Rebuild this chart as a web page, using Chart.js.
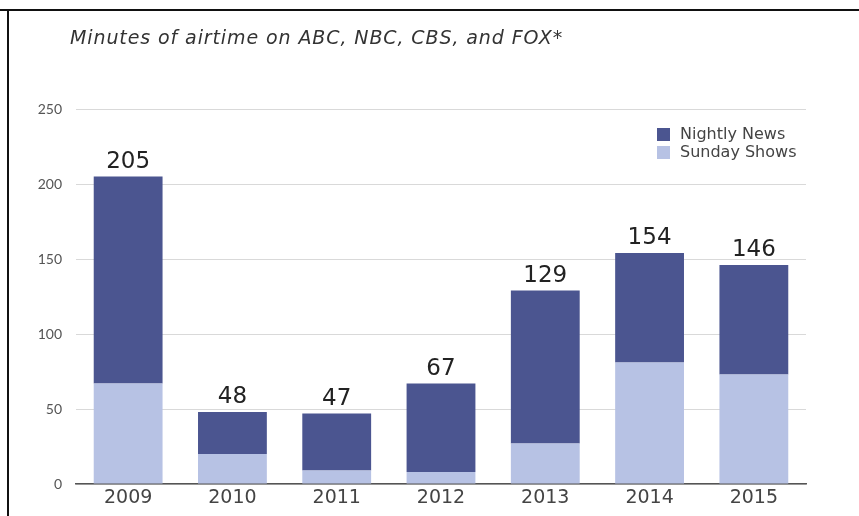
<!DOCTYPE html>
<html>
<head>
<meta charset="utf-8">
<script src="https://cdn.jsdelivr.net/npm/chart.js@4.4.1/dist/chart.umd.min.js"></script>
<style>
  html, body { margin: 0; padding: 0; background: #fff; }
  #wrap { position: relative; width: 859px; height: 516px; overflow: hidden; background: #fff; }
  #frameTop { position: absolute; left: 0; top: 9px; width: 859px; height: 2px; background: #111; }
  #frameLeft { position: absolute; left: 7px; top: 9px; width: 2px; height: 507px; background: #111; }
  #title { position: absolute; left: 70px; top: 26px; font-family: "DejaVu Sans", sans-serif; font-style: italic;
           font-size: 19px; letter-spacing: 0.9px; color: #333; white-space: nowrap; }
  canvas { position: absolute; left: 0; top: 0; }
</style>
</head>
<body>
<div id="wrap">
  <canvas id="c" width="859" height="516"></canvas>
  <div id="frameTop"></div>
  <div id="frameLeft"></div>
  <div id="title">Minutes of airtime on ABC, NBC, CBS, and FOX*</div>
</div>
<script>
const years = ["2009", "2010", "2011", "2012", "2013", "2014", "2015"];
const sundayShows = [67, 20, 9, 8, 27, 81, 73];
const nightlyNews = [138, 28, 38, 59, 102, 73, 73];
const totals = [205, 48, 47, 67, 129, 154, 146];
const yTicks = [0, 50, 100, 150, 200, 250];

const DARK = "#4b5590";
const LIGHT = "#b7c2e4";
const WIDE_FONT = "'DejaVu Sans', sans-serif";
const TICK_FONT = "Lato, sans-serif";

const totalsPlugin = {
  id: "totals",
  afterDatasetsDraw(chart) {
    const ctx = chart.ctx;
    const meta = chart.getDatasetMeta(1);
    ctx.save();
    ctx.font = "23px " + WIDE_FONT;
    ctx.fillStyle = "#222";
    ctx.textAlign = "center";
    ctx.textBaseline = "alphabetic";
    meta.data.forEach((bar, i) => {
      ctx.fillText(String(totals[i]), bar.x, bar.y - 9);
    });
    ctx.restore();
  }
};

const legendPlugin = {
  id: "boxLegend",
  afterDraw(chart) {
    const ctx = chart.ctx;
    const items = [chart.data.datasets[1], chart.data.datasets[0]];
    ctx.save();
    ctx.font = "16px " + WIDE_FONT;
    ctx.textBaseline = "middle";
    ctx.textAlign = "left";
    items.forEach((ds, i) => {
      const y = 128 + i * 18;
      ctx.fillStyle = ds.backgroundColor;
      ctx.fillRect(657, y, 13, 13);
      ctx.fillStyle = "#444";
      ctx.fillText(ds.label, 680, y + 7);
    });
    ctx.restore();
  }
};

new Chart(document.getElementById("c"), {
  type: "bar",
  data: {
    labels: years,
    datasets: [
      { label: "Sunday Shows", data: sundayShows, backgroundColor: LIGHT, stack: "s",
        categoryPercentage: 1, barPercentage: 0.66 },
      { label: "Nightly News", data: nightlyNews, backgroundColor: DARK, stack: "s",
        categoryPercentage: 1, barPercentage: 0.66 }
    ]
  },
  options: {
    responsive: false,
    animation: false,
    devicePixelRatio: 1,
    layout: { padding: { left: 0, right: 53, top: 109, bottom: 0 } },
    plugins: {
      legend: { display: false },
      title: { display: false },
      tooltip: { enabled: false }
    },
    scales: {
      x: {
        stacked: true,
        offset: true,
        grid: { display: false, drawTicks: false },
        border: { display: true, color: "#555", width: 1.5 },
        ticks: { color: "#444", font: { family: WIDE_FONT, size: 19 }, padding: 3 },
        afterFit(scale) { scale.height = 32; }
      },
      y: {
        stacked: true,
        min: 0,
        max: 250,
        afterBuildTicks(scale) { scale.ticks = yTicks.map(v => ({ value: v })); },
        grid: { color: "#d9d9d9", lineWidth: 1, drawTicks: false },
        border: { display: false },
        ticks: { color: "#555", font: { family: TICK_FONT, size: 14 }, padding: 14 },
        afterFit(scale) { scale.width = 76; }
      }
    }
  },
  plugins: [totalsPlugin, legendPlugin]
});
</script>
</body>
</html>
